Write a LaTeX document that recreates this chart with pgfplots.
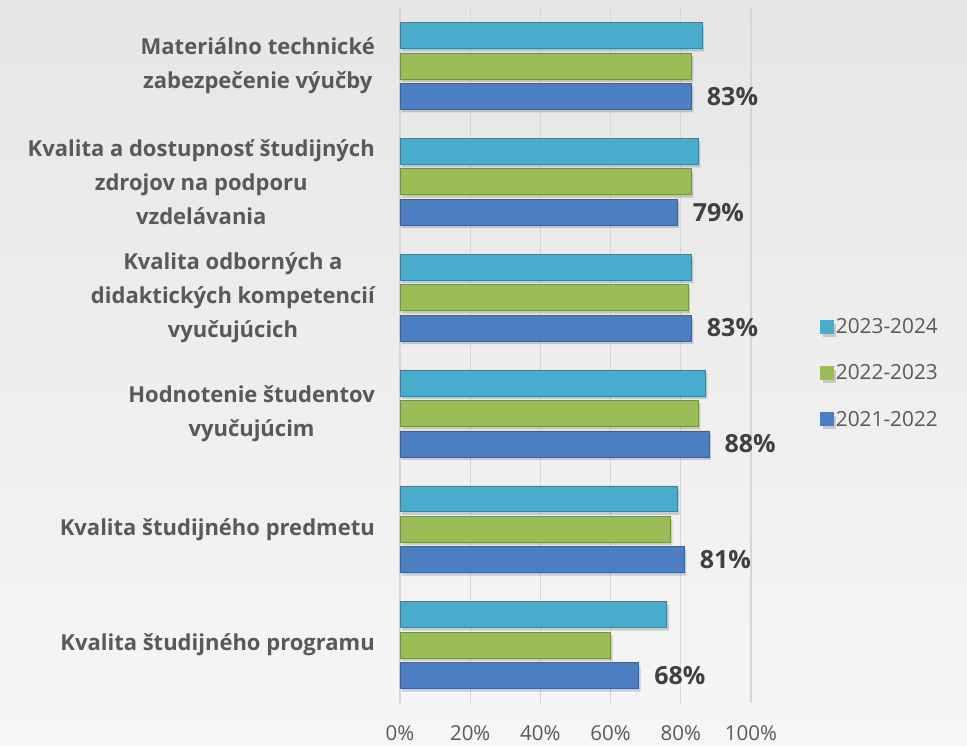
\documentclass[border=0pt]{standalone}
\usepackage{fontspec}
\setmainfont{Open Sans}
\usepackage{pgfplots}
\pgfplotsset{compat=1.18}
\definecolor{txt}{RGB}{89,89,89}
\definecolor{lbl}{RGB}{64,64,64}
\definecolor{gridc}{RGB}{214,214,214}
\definecolor{cyanB}{RGB}{72,172,204}
\definecolor{cyanE}{RGB}{60,130,155}
\definecolor{greenB}{RGB}{154,189,88}
\definecolor{greenE}{RGB}{118,146,70}
\definecolor{blueB}{RGB}{76,126,194}
\definecolor{blueE}{RGB}{60,98,150}
\tikzset{barshadow/.style={preaction={fill=black, fill opacity=0.16, draw=none, transform canvas={shift={(2pt,-3pt)}}}}}

\begin{document}
\begin{tikzpicture}
\shade[top color={rgb,255:red,230;green,230;blue,230}, bottom color={rgb,255:red,246;green,246;blue,246}]
  (0,0) rectangle (967pt,745pt);
\useasboundingbox (0,0) rectangle (967pt,745pt);
\begin{axis}[
    at={(400pt,42pt)}, anchor=south west,
    scale only axis,
    width=351pt, height=695pt,
    xbar,
    xmin=0, xmax=100,
    ymin=-0.5, ymax=5.5,
    bar width=0.224,
    xtick={0,20,...,100},
    xticklabel={\pgfmathprintnumber{\tick}\%},
    /pgf/number format/assume math mode=true,
    xmajorgrids,
    grid style={gridc, line width=1.2pt},
    major tick length=0pt,
    axis line style={draw=none},
    ytick={0,1,2,3,4,5},
    yticklabels={
      {Kvalita študijného programu},
      {Kvalita študijného predmetu},
      {Hodnotenie študentov\\vyučujúcim},
      {Kvalita odborných a\\didaktických kompetencií\\vyučujúcich},
      {Kvalita a dostupnosť študijných\\zdrojov na podporu\\vzdelávania},
      {Materiálno technické\\zabezpečenie výučby}},
    yticklabel style={align=center, font=\fontsize{22}{34}\selectfont\bfseries, text=txt, inner sep=0pt, xshift=-25pt},
    xticklabel style={font=\fontsize{20.5}{24}\selectfont, text=txt, inner sep=0pt, yshift=-22pt},
    legend style={at={(axis description cs:1.197,0.556)}, anchor=north west, draw=none, fill=none,
      font=\fontsize{20.8}{24}\selectfont, text=txt, row sep=25.5pt, inner sep=0pt,
      /tikz/every even column/.append style={column sep=7pt}},
    legend cell align=left,
    reverse legend,
    every node near coord/.append style={font=\fontsize{25}{28}\selectfont\bfseries, text=lbl, xshift=12pt},
]
\addplot[bar shift=-0.263, draw=blueE, line width=0.6pt, fill=blueB, barshadow,
  legend image code/.code={\fill[blueB] (0pt,-6.5pt) rectangle (13pt,6.5pt);},
  nodes near coords={\pgfmathprintnumber{\pgfplotspointmeta}\%}]
  coordinates {(68,0) (81,1) (88,2) (83,3) (79,4) (83,5)};
\addlegendentry{2021-2022}
\addplot[bar shift=0, draw=greenE, line width=0.6pt, fill=greenB, barshadow,
  legend image code/.code={\fill[greenB] (0pt,-6.5pt) rectangle (13pt,6.5pt);}]
  coordinates {(60,0) (77,1) (85,2) (82,3) (83,4) (83,5)};
\addlegendentry{2022-2023}
\addplot[bar shift=0.263, draw=cyanE, line width=0.6pt, fill=cyanB, barshadow,
  legend image code/.code={\fill[cyanB] (0pt,-6.5pt) rectangle (13pt,6.5pt);}]
  coordinates {(76,0) (79,1) (87,2) (83,3) (85,4) (86,5)};
\addlegendentry{2023-2024}
\end{axis}
\end{tikzpicture}
\end{document}
